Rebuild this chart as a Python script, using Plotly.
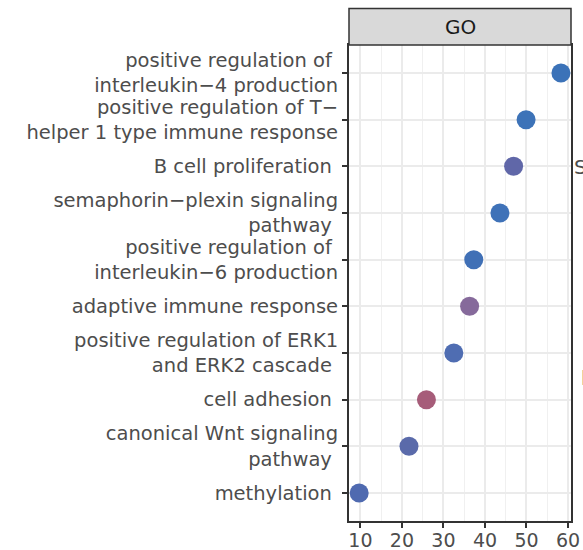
import plotly.graph_objects as go

terms = [
    "methylation\u00a0",
    "canonical Wnt signaling<br>pathway\u00a0",
    "cell adhesion\u00a0",
    "positive regulation of ERK1<br>and ERK2 cascade\u00a0",
    "adaptive immune response",
    "positive regulation of\u00a0<br>interleukin\u22126 production",
    "semaphorin\u2212plexin signaling<br>pathway\u00a0",
    "B cell proliferation\u00a0",
    "positive regulation of T\u2212<br>helper 1 type immune response",
    "positive regulation of\u00a0<br>interleukin\u22124 production",
]
values = [9.7, 21.7, 25.9, 32.5, 36.3, 37.3, 43.6, 46.9, 49.9, 58.3]
colors = ["#4f6ab0", "#5a6aaa", "#a65c79", "#4f6db2", "#866a9b",
          "#4070b6", "#3f72b8", "#6067a8", "#3d73b8", "#3b72b8"]
x_ticks = [10, 20, 30, 40, 50, 60]
facet = "GO"

W, H = 583, 550
L, R, T, B = 349, 12, 45, 29
ph = H - T - B

fig = go.Figure()
fig.add_trace(go.Scatter(
    x=values, y=list(range(len(terms))), mode="markers",
    marker=dict(size=19, color=colors, line=dict(width=0)),
    showlegend=False, cliponaxis=False, hoverinfo="skip",
))

font_fam = "DejaVu Sans, Liberation Sans, Arial, sans-serif"
fig.update_layout(
    width=W, height=H,
    margin=dict(l=L, r=R, t=T, b=B, pad=0, autoexpand=False),
    paper_bgcolor="white", plot_bgcolor="white",
    font=dict(family=font_fam, size=19.5, color="#4d4d4d"),
    xaxis=dict(
        range=[7.25, 60.72], tickvals=x_ticks, ticktext=[str(v) for v in x_ticks],
        automargin=False, ticklabelstandoff=-4,
        showgrid=True, gridcolor="#ebebeb", gridwidth=2,
        minor=dict(dtick=5, tick0=5, showgrid=True, gridcolor="#f0f0f0", gridwidth=1.4),
        ticks="outside", ticklen=5, tickwidth=1.5, tickcolor="#333333",
        showline=True, linecolor="#333333", linewidth=2, mirror=True,
        zeroline=False, tickfont=dict(size=19, color="#4d4d4d"),
    ),
    yaxis=dict(
        range=[-0.6, 9.6], tickvals=list(range(len(terms))), ticktext=terms,
        automargin=False,
        showgrid=True, gridcolor="#ebebeb", gridwidth=2,
        ticks="outside", ticklen=5, tickwidth=1.5, tickcolor="#333333",
        showline=True, linecolor="#333333", linewidth=2, mirror=True,
        zeroline=False, tickfont=dict(size=19.5, color="#4d4d4d"),
    ),
)

# facet strip
strip_top = 1 + 36.5 / ph
fig.add_shape(type="rect", xref="paper", yref="paper", x0=0, x1=1,
              y0=1.0, y1=strip_top, fillcolor="#d9d9d9",
              line=dict(color="#333333", width=1.5))
fig.add_annotation(text=facet, xref="paper", yref="paper", x=0.5, y=(1 + strip_top) / 2,
                   showarrow=False, font=dict(size=20, color="#1a1a1a"),
                   xanchor="center", yanchor="middle")

# partially visible legend text at the right edge
fig.add_annotation(text="S", xref="paper", yref="paper", x=1.004, y=0.7437,
                   showarrow=False, xanchor="left", yanchor="middle",
                   font=dict(size=20, color="#4d4d4d"))
fig.add_annotation(text="b", xref="paper", yref="paper", x=1.036, y=0.300,
                   showarrow=False, xanchor="left", yanchor="middle",
                   font=dict(size=20, color="#4d4d4d"))

fig.write_html("out.html",
               config={"displayModeBar": False},
               post_script="document.body.style.margin='0';document.body.style.overflow='hidden';")
